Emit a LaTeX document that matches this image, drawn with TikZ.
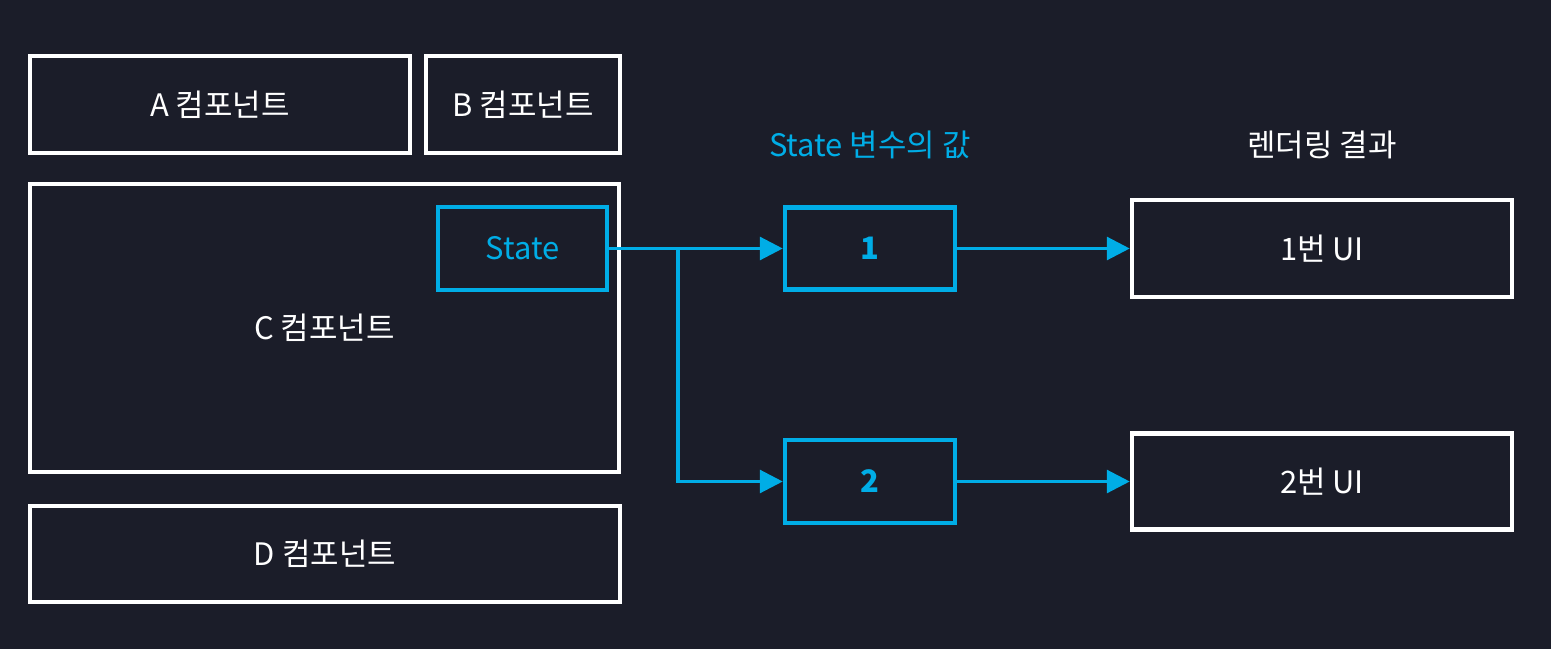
\documentclass[tikz,border=0pt]{standalone}
\usepackage{fontspec}
\setmainfont{Noto Sans CJK KR}
\usepackage{tikz}
\usetikzlibrary{arrows.meta,positioning}
\definecolor{bgdark}{HTML}{1B1D29}
\definecolor{stateblue}{HTML}{00ADE6}

\begin{document}
\begin{tikzpicture}[
    compbox/.style={draw=white, line width=1.3pt, align=center, text=white, inner sep=0pt, font=\fontsize{8.8}{10}\selectfont},
    valbox/.style={draw=stateblue, line width=1.3pt, align=center, text=stateblue, inner sep=0pt, font=\fontsize{8.8}{10}\selectfont},
    arrow/.style={-{Triangle[length=6.5pt,width=6.5pt]}, stateblue, line width=0.9pt},
    title/.style={font=\fontsize{8.8}{10}\selectfont}
]
\fill[bgdark] (0,0) rectangle (15.51,6.49);
\useasboundingbox (0,0) rectangle (15.51,6.49);
% components
\node[compbox, minimum width=3.8cm, minimum height=0.97cm] (compA) at (2.20,5.445) {A 컴포넌트};
\node[compbox, minimum width=1.94cm, minimum height=0.97cm] (compB) at (5.23,5.445) {B 컴포넌트};
\node[compbox, minimum width=5.89cm, minimum height=2.88cm] (compC) at (3.245,3.21) {C 컴포넌트};
\node[compbox, minimum width=5.9cm, minimum height=0.96cm] (compD) at (3.25,0.95) {D 컴포넌트};
\node[valbox, minimum width=1.69cm, minimum height=0.83cm] (state) at (5.225,4.005) {State};
% state values
\node[valbox, minimum width=1.70cm, minimum height=0.82cm, font=\fontsize{8.8}{10}\selectfont\bfseries] (val1) at (8.70,4.005) {1};
\node[valbox, minimum width=1.70cm, minimum height=0.83cm, font=\fontsize{8.8}{10}\selectfont\bfseries] (val2) at (8.70,1.675) {2};
% render results
\node[compbox, minimum width=3.8cm, minimum height=0.97cm] (ui1) at (13.22,4.005) {1번 UI};
\node[compbox, minimum width=3.8cm, minimum height=0.96cm] (ui2) at (13.22,1.675) {2번 UI};
\node[title, text=stateblue] (valtitle) at (8.70,5.04) {State 변수의 값};
\node[title, text=white] (uititle) at (13.22,5.04) {렌더링 결과};
\coordinate (split) at (6.78,4.005);
\draw[arrow] (state) -- (val1);
\draw[arrow] (split) |- (val2);
\draw[arrow] (val1) -- (ui1);
\draw[arrow] (val2) -- (ui2);
\end{tikzpicture}
\end{document}
